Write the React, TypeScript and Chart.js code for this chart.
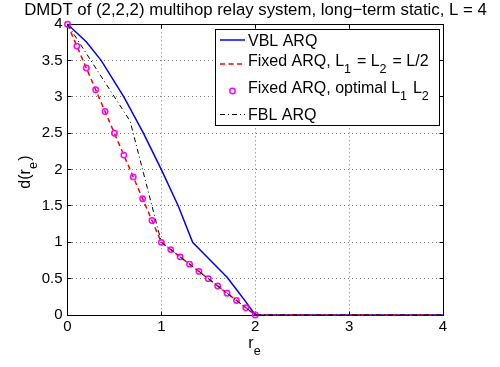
import { useEffect, useRef } from 'react';
import { Chart, registerables } from 'chart.js';

Chart.register(...registerables);

const FONT = '"Liberation Sans", Arial, Helvetica, sans-serif';

const titleText = 'DMDT of (2,2,2) multihop relay system, long\u2212term static, L = 4';

// VBL ARQ
const vblRate = [0, 0.2, 0.36, 0.6, 0.81, 1.0, 1.18, 1.333, 1.5, 1.7, 1.8, 1.9, 2.0, 4.0];
const vblDmdt = [4, 3.76, 3.5, 3.0, 2.5, 2.0, 1.5, 1.0, 0.78, 0.52, 0.35, 0.18, 0, 0];

// Fixed ARQ, L1 = L2 = L/2
const fixedHalfRate = [0, 1, 2, 4];
const fixedHalfDmdt = [4, 1, 0, 0];

// Fixed ARQ, optimal L1 L2
const fixedOptRate = [0, 0.1, 0.2, 0.3, 0.4, 0.5, 0.6, 0.7, 0.8, 0.9, 1.0, 1.1, 1.2, 1.3, 1.4, 1.5, 1.6, 1.7, 1.8, 1.9, 2.0];
const fixedOptDmdt = [4, 3.7, 3.4, 3.1, 2.8, 2.5, 2.2, 1.9, 1.6, 1.3, 1.0, 0.9, 0.8, 0.7, 0.6, 0.5, 0.4, 0.3, 0.2, 0.1, 0];

// FBL ARQ
const fblRate = [0, 0.25, 0.5, 0.667, 0.8, 1.0, 2.0, 4.0];
const fblDmdt = [4, 3.5, 3.0, 2.667, 2.0, 1.0, 0, 0];

const xTickValues = [0, 1, 2, 3, 4];
const yTickValues = [0, 0.5, 1, 1.5, 2, 2.5, 3, 3.5, 4];

type Part = { t: string; sub?: boolean };

const MAIN = 16;
const SUB = 12.5;
const SUBOFF = 7;

function partsWidth(ctx: CanvasRenderingContext2D, parts: Part[]) {
  let w = 0;
  for (const p of parts) {
    ctx.font = `${p.sub ? SUB : MAIN}px ${FONT}`;
    w += ctx.measureText(p.t).width + (p.sub ? 1.5 : 0);
  }
  return w;
}

function drawParts(ctx: CanvasRenderingContext2D, parts: Part[], x: number, y: number) {
  let cx = x;
  ctx.textAlign = 'left';
  ctx.textBaseline = 'alphabetic';
  for (const p of parts) {
    ctx.font = `${p.sub ? SUB : MAIN}px ${FONT}`;
    ctx.fillText(p.t, cx, p.sub ? y + SUBOFF : y);
    cx += ctx.measureText(p.t).width + (p.sub ? 1.5 : 0);
  }
}

const align = (v: number, w: number) => Math.round(v - w / 2) + w / 2;

const decor = {
  id: 'decor',
  beforeDatasetsDraw(chart: any) {
    const ctx: CanvasRenderingContext2D = chart.ctx;
    const xs = chart.scales.x;
    const ys = chart.scales.y;
    const l = align(xs.getPixelForValue(0), 1);
    const r = align(xs.getPixelForValue(4), 1);
    const t = align(ys.getPixelForValue(4), 1);
    const b = align(ys.getPixelForValue(0), 1);
    ctx.save();
    ctx.strokeStyle = '#000';
    ctx.lineWidth = 1;
    ctx.setLineDash([]);
    ctx.beginPath();
    for (const v of xTickValues) {
      const px = align(xs.getPixelForValue(v), 1);
      ctx.moveTo(px, b);
      ctx.lineTo(px, b - 4);
      ctx.moveTo(px, t);
      ctx.lineTo(px, t + 4);
    }
    for (const v of yTickValues) {
      const py = align(ys.getPixelForValue(v), 1);
      ctx.moveTo(l, py);
      ctx.lineTo(l + 4, py);
      ctx.moveTo(r, py);
      ctx.lineTo(r - 4, py);
    }
    ctx.stroke();
    ctx.strokeRect(l, t, r - l, b - t);
    ctx.restore();
  },
  afterDraw(chart: any) {
    const ctx: CanvasRenderingContext2D = chart.ctx;
    const area = chart.chartArea;
    ctx.save();
    ctx.fillStyle = '#000';

    // title
    ctx.font = `16.8px ${FONT}`;
    ctx.textAlign = 'center';
    ctx.textBaseline = 'alphabetic';
    ctx.fillText(titleText, 255.5, 15);

    // x label
    const xl: Part[] = [{ t: 'r' }, { t: 'e', sub: true }];
    const xw = partsWidth(ctx, xl);
    drawParts(ctx, xl, (area.left + area.right) / 2 - xw / 2, 348);

    // y label
    const yl: Part[] = [{ t: 'd(r' }, { t: 'e', sub: true }, { t: ')' }];
    const yw = partsWidth(ctx, yl);
    ctx.save();
    ctx.translate(29.5, 172);
    ctx.rotate(-Math.PI / 2);
    drawParts(ctx, yl, -yw / 2, 0);
    ctx.restore();

    // legend
    ctx.fillStyle = '#fff';
    ctx.fillRect(215.5, 29.5, 224, 96);
    ctx.strokeStyle = '#000';
    ctx.lineWidth = 1;
    ctx.setLineDash([]);
    ctx.strokeRect(215.5, 29.5, 224, 96);
    ctx.fillStyle = '#000';

    const lx0 = 220;
    const lx1 = 245;
    const tx = 248;

    // row 1
    ctx.strokeStyle = '#0000ff';
    ctx.lineWidth = 1.5;
    ctx.beginPath();
    ctx.moveTo(lx0, 40);
    ctx.lineTo(lx1, 40);
    ctx.stroke();
    drawParts(ctx, [{ t: 'VBL ARQ' }], tx, 45.7);

    // row 2
    ctx.strokeStyle = '#ff0000';
    ctx.setLineDash([5, 3.5]);
    ctx.beginPath();
    ctx.moveTo(lx0, 64);
    ctx.lineTo(lx1, 64);
    ctx.stroke();
    ctx.setLineDash([]);
    drawParts(
      ctx,
      [{ t: 'Fixed ARQ, L' }, { t: '1', sub: true }, { t: ' = L' }, { t: '2', sub: true }, { t: ' = L/2' }],
      tx,
      65.7
    );

    // row 3
    ctx.strokeStyle = '#ff00ff';
    ctx.lineWidth = 1.5;
    ctx.beginPath();
    ctx.arc(232.5, 91, 2.7, 0, Math.PI * 2);
    ctx.stroke();
    drawParts(
      ctx,
      [{ t: 'Fixed ARQ, optimal L' }, { t: '1', sub: true }, { t: ' L' }, { t: '2', sub: true }],
      tx,
      93.3
    );

    // row 4
    ctx.strokeStyle = '#000';
    ctx.lineWidth = 1;
    ctx.setLineDash([5, 3, 1, 3]);
    ctx.beginPath();
    ctx.moveTo(lx0, 114.5);
    ctx.lineTo(lx1, 114.5);
    ctx.stroke();
    ctx.setLineDash([]);
    drawParts(ctx, [{ t: 'FBL ARQ' }], tx, 120.2);

    ctx.restore();
  },
};

const toPts = (xs: number[], ys: number[]) => xs.map((x, i) => ({ x, y: ys[i] }));

const fmt = (v: any) => String(Math.round(Number(v) * 100) / 100);

export default function App() {
  const ref = useRef<HTMLCanvasElement>(null);

  useEffect(() => {
    if (!ref.current) return;
    const chart = new Chart(ref.current, {
      type: 'line',
      data: {
        datasets: [
          {
            label: 'FBL ARQ',
            data: toPts(fblRate, fblDmdt),
            borderColor: '#000000',
            borderWidth: 1,
            borderDash: [5, 3, 1, 3],
            pointRadius: 0,
            tension: 0,
            clip: false,
            order: 1,
          },
          {
            label: 'Fixed ARQ, optimal L1 L2',
            data: toPts(fixedOptRate, fixedOptDmdt),
            showLine: false,
            pointRadius: 2.7,
            pointStyle: 'circle',
            pointBorderColor: '#ff00ff',
            pointBackgroundColor: 'rgba(0,0,0,0)',
            pointBorderWidth: 1.5,
            borderColor: '#ff00ff',
            clip: false,
            order: 2,
          },
          {
            label: 'Fixed ARQ, L1 = L2 = L/2',
            data: toPts(fixedHalfRate, fixedHalfDmdt),
            borderColor: '#ff0000',
            borderWidth: 1.5,
            borderDash: [5, 3.5],
            pointRadius: 0,
            tension: 0,
            clip: false,
            order: 3,
          },
          {
            label: 'VBL ARQ',
            data: toPts(vblRate, vblDmdt),
            borderColor: '#0000ff',
            borderWidth: 1.5,
            pointRadius: 0,
            tension: 0,
            clip: false,
            order: 4,
          },
        ],
      },
      options: {
        animation: false,
        responsive: false,
        devicePixelRatio: 1,
        layout: { padding: { top: 24.3, right: 57, left: 0, bottom: 0 } },
        plugins: {
          legend: { display: false },
          title: { display: false },
          tooltip: { enabled: false },
        },
        scales: {
          x: {
            type: 'linear',
            min: 0,
            max: 4,
            ticks: {
              stepSize: 1,
              color: '#000',
              font: { family: FONT, size: 15 },
              padding: 3,
              maxRotation: 0,
              callback: fmt,
            },
            grid: { color: '#7a7a7a', lineWidth: 1, drawTicks: false },
            border: { display: false, dash: [1, 3] },
            afterFit: (s: any) => {
              s.height = 52;
            },
          },
          y: {
            type: 'linear',
            min: 0,
            max: 4,
            ticks: {
              stepSize: 0.5,
              color: '#000',
              font: { family: FONT, size: 15 },
              padding: 5,
              callback: fmt,
            },
            grid: { color: '#7a7a7a', lineWidth: 1, drawTicks: false },
            border: { display: false, dash: [1, 3] },
            afterFit: (s: any) => {
              s.width = 67.5;
            },
          },
        },
      },
      plugins: [decor],
    });
    return () => chart.destroy();
  }, []);

  return (
    <div style={{ position: 'absolute', left: 0, top: 0, width: 500, height: 367, background: '#fff' }}>
      <canvas ref={ref} width={500} height={367} />
    </div>
  );
}
